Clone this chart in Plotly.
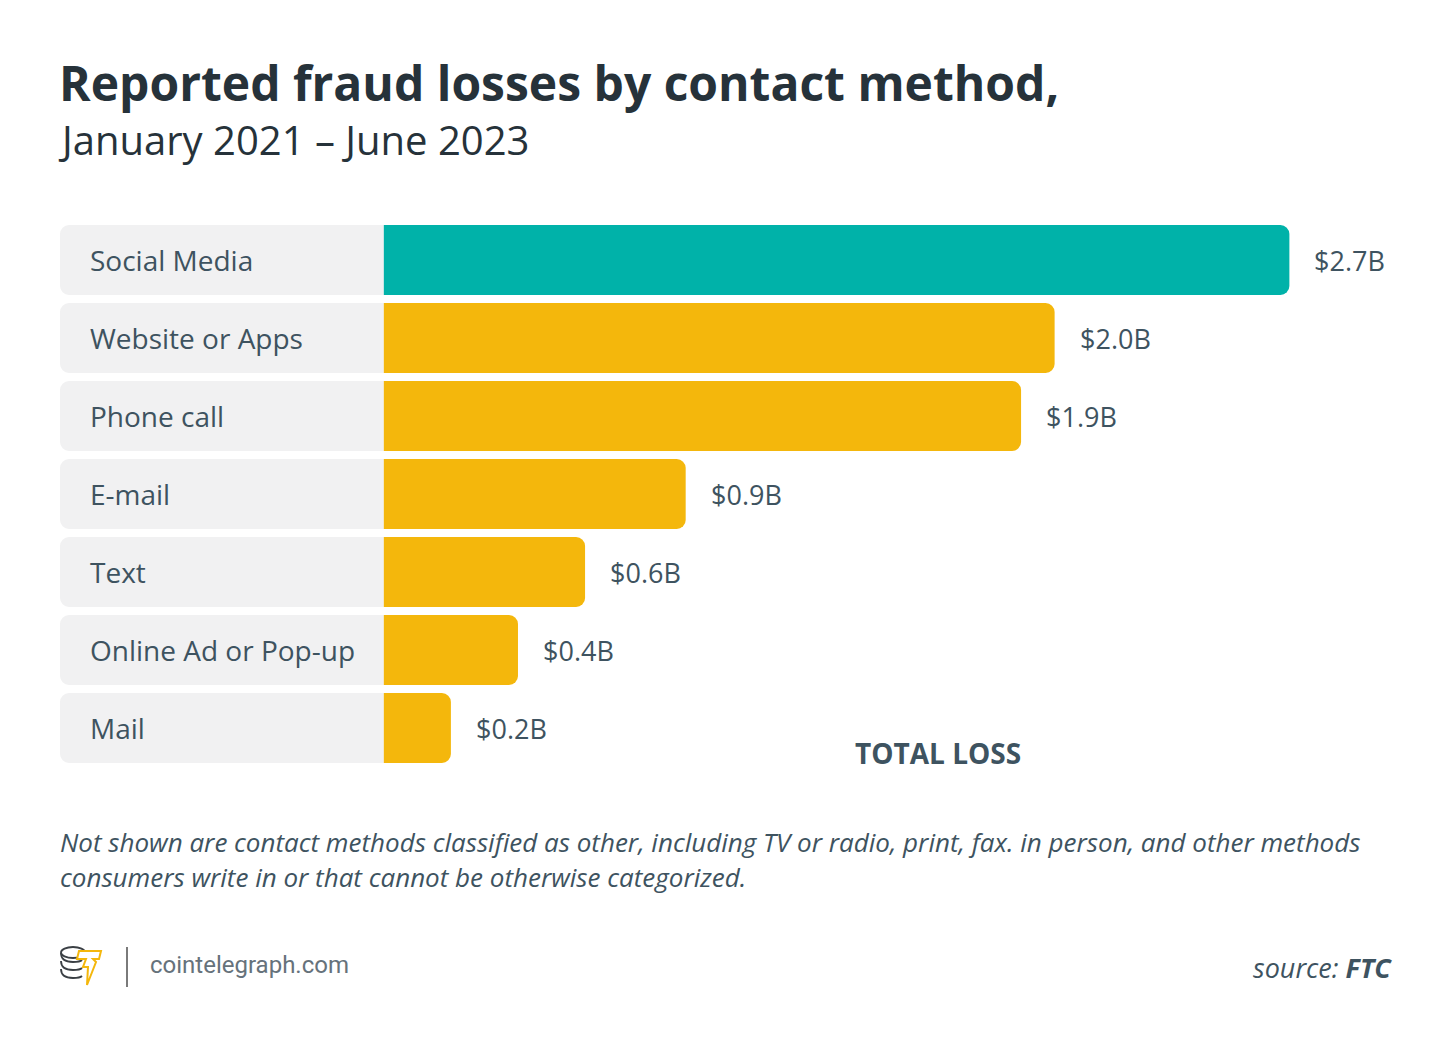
import plotly.graph_objects as go

# data
categories = ["Social Media", "Website or Apps", "Phone call", "E-mail",
              "Text", "Online Ad or Pop-up", "Mail"]
losses_bn = [2.7, 2.0, 1.9, 0.9, 0.6, 0.4, 0.2]
value_labels = ["$2.7B", "$2.0B", "$1.9B", "$0.9B", "$0.6B", "$0.4B", "$0.2B"]
bar_colors = ["#00B2A9"] + ["#F4B70C"] * 6

TEXT = "#3E5360"
DARK = "#26323A"
FONT = "Open Sans"

# width of the grey label box, in axis units (billions)
LABEL_W = 0.9655
X_MAX = 3.0

# plot area in pixels: left 60, right 1390, top 221, bottom 767
W, H = 1450, 1047
L, R, T, B = 60, 60, 221, 280


def px(x):
    return (x - L) / (W - L - R)


def py(y):
    return (H - B - y) / (H - B - T)


fig = go.Figure()

# grey label boxes (negative side so the rounded end is on the left)
fig.add_trace(go.Bar(
    y=categories, x=[-LABEL_W] * len(categories), orientation="h",
    marker=dict(color="#F1F1F2", cornerradius=9, line=dict(width=0)),
    hoverinfo="skip", showlegend=False,
))
fig.add_trace(go.Bar(
    y=categories, x=losses_bn, orientation="h",
    marker=dict(color=bar_colors, cornerradius=9, line=dict(width=0)),
    hovertemplate="%{y}: %{x}B<extra></extra>", showlegend=False,
))

annotations = []
for cat, val, lab in zip(categories, losses_bn, value_labels):
    annotations.append(dict(x=-LABEL_W, y=cat, xref="x", yref="y", text=cat,
                            xanchor="left", xshift=28, showarrow=False,
                            font=dict(family=FONT, size=28, color=TEXT)))
    annotations.append(dict(x=val, y=cat, xref="x", yref="y", text=lab,
                            xanchor="left", xshift=23, showarrow=False,
                            font=dict(family=FONT, size=27, color=TEXT)))

annotations += [
    dict(x=px(57), y=py(82), text="<b>Reported fraud losses by contact method,</b>",
         font=dict(family=FONT, size=48, color=DARK)),
    dict(x=px(56), y=py(139), text="January 2021 – June 2023",
         font=dict(family=FONT, size=40, color=DARK)),
    dict(x=px(938), y=py(753), text="<b>TOTAL LOSS</b>", xanchor="center",
         font=dict(family=FONT, size=28, color=TEXT)),
    dict(x=px(58), y=py(842),
         text="<i>Not shown are contact methods classified as other, including TV or radio, print, fax. in person, and other methods</i>",
         font=dict(family=FONT, size=26, color=TEXT)),
    dict(x=px(58), y=py(877),
         text="<i>consumers write in or that cannot be otherwise categorized.</i>",
         font=dict(family=FONT, size=26, color=TEXT)),
    dict(x=px(148), y=py(965), text="cointelegraph.com",
         font=dict(family="Roboto", size=24, color="#66727B")),
    dict(x=px(1394), y=py(967), text="<i>source: <b>FTC</b></i>", xanchor="right",
         font=dict(family=FONT, size=27, color=TEXT)),
]
for a in annotations[-7:]:
    a.setdefault("xanchor", "left")
    a.update(xref="paper", yref="paper", yanchor="middle", showarrow=False)

# footer logo: coin stack + bolt, and divider
shapes = [
    dict(type="line", x0=px(127), x1=px(127), y0=py(947), y1=py(987),
         line=dict(color="#7A7A7A", width=2)),
    dict(type="circle", x0=px(61), x1=px(85), y0=py(947), y1=py(958),
         line=dict(color="#3A3F44", width=1.8)),
]
for yy in (960, 968, 976):
    shapes.append(dict(
        type="path",
        path=f"M {px(61)} {py(yy - 7)} Q {px(61)} {py(yy + 2)} {px(73)} {py(yy + 2)} "
             f"Q {px(80)} {py(yy + 2)} {px(82)} {py(yy)}",
        line=dict(color="#3A3F44", width=1.8)))
bolt = [(79, 951), (101, 951), (99, 959), (93, 959), (96, 962), (87, 985),
        (88, 967), (83, 967), (86, 959), (77, 959)]
shapes.append(dict(
    type="path",
    path="M " + " L ".join(f"{px(x)} {py(y)}" for x, y in bolt) + " Z",
    fillcolor="white", line=dict(color="#F4B70C", width=2)))
for s in shapes:
    s.update(xref="paper", yref="paper")

fig.update_layout(
    width=W, height=H,
    margin=dict(l=L, r=R, t=T, b=B),
    paper_bgcolor="white", plot_bgcolor="white",
    barmode="overlay", bargap=0.103,
    xaxis=dict(range=[-LABEL_W, X_MAX], visible=False, fixedrange=True),
    yaxis=dict(autorange="reversed", visible=False, fixedrange=True),
    annotations=annotations, shapes=shapes,
    font=dict(family=FONT),
)

# the page body has a default 8px margin; drop it so the figure sits at 0,0
fig.write_html("out.html", config={"displayModeBar": False},
               post_script="document.body.style.margin = '0';")
